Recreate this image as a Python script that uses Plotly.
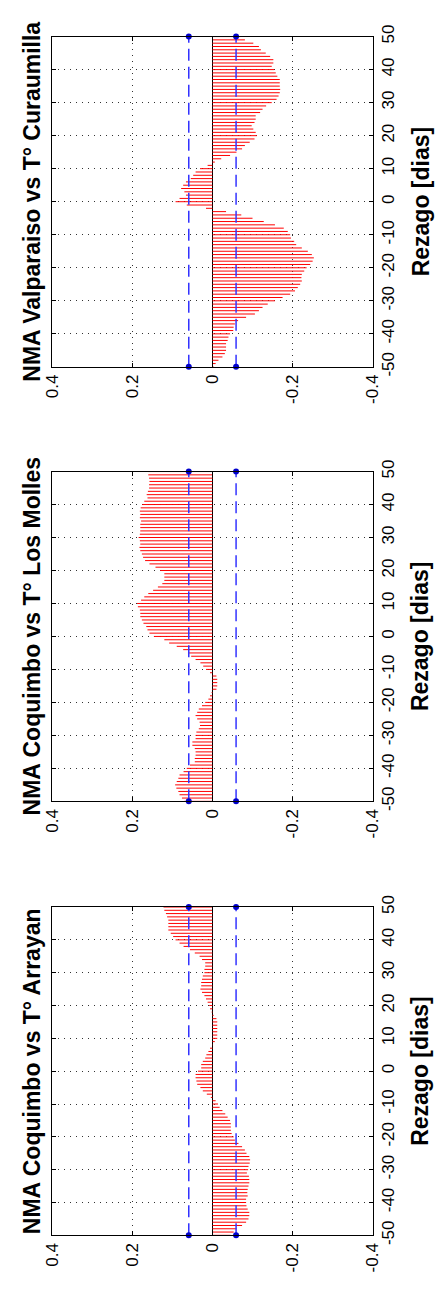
import plotly.graph_objects as go

# ---------------- data ----------------
lags = list(range(-50, 51))

corr_curaumilla = [
    -0.003, -0.008, -0.015, -0.025, -0.031, -0.034, -0.034, -0.034, -0.038, -0.040,
    -0.044, -0.052, -0.053, -0.056, -0.064, -0.084, -0.106, -0.116, -0.125, -0.138,
    -0.156, -0.175, -0.194, -0.206, -0.213, -0.219, -0.223, -0.222, -0.223, -0.229,
    -0.235, -0.244, -0.250, -0.253, -0.248, -0.238, -0.223, -0.209, -0.204, -0.196,
    -0.194, -0.188, -0.178, -0.156, -0.128, -0.100, -0.072, -0.034, 0.016, 0.064,
    0.092,
    0.082, 0.066, 0.070, 0.078, 0.073, 0.066, 0.054, 0.048, 0.042, 0.031,
    0.012, -0.006, -0.022, -0.044, -0.060, -0.074, -0.081, -0.093, -0.105, -0.111,
    -0.108, -0.102, -0.098, -0.105, -0.108, -0.108, -0.119, -0.125, -0.134, -0.148,
    -0.160, -0.165, -0.168, -0.169, -0.168, -0.168, -0.168, -0.162, -0.158, -0.154,
    -0.148, -0.152, -0.152, -0.144, -0.133, -0.121, -0.116, -0.102, -0.081, -0.070,
]

corr_los_molles = [
    0.070, 0.076, 0.082, 0.085, 0.090, 0.093, 0.089, 0.085, 0.082, 0.072,
    0.064, 0.056, 0.044, 0.044, 0.042, 0.042, 0.044, 0.050, 0.050, 0.042,
    0.042, 0.040, 0.034, 0.031, 0.032, 0.038, 0.042, 0.038, 0.034, 0.026,
    0.018, 0.010, 0.006, 0.002, -0.010, -0.012, -0.012, -0.012, -0.010, 0.006,
    0.016, 0.023, 0.030, 0.042, 0.053, 0.061, 0.073, 0.089, 0.108, 0.120,
    0.146,
    0.157, 0.162, 0.165, 0.172, 0.176, 0.180, 0.180, 0.181, 0.186, 0.188,
    0.178, 0.170, 0.160, 0.148, 0.136, 0.125, 0.120, 0.120, 0.120, 0.130,
    0.142, 0.157, 0.168, 0.173, 0.176, 0.180, 0.182, 0.180, 0.181, 0.184,
    0.181, 0.180, 0.180, 0.180, 0.178, 0.181, 0.180, 0.181, 0.179, 0.175,
    0.170, 0.162, 0.164, 0.161, 0.158, 0.158, 0.157, 0.158, 0.160, 0.160,
]

corr_arrayan = [
    -0.045, -0.053, -0.060, -0.074, -0.084, -0.090, -0.092, -0.092, -0.088, -0.085,
    -0.084, -0.084, -0.088, -0.087, -0.088, -0.090, -0.092, -0.092, -0.091, -0.086,
    -0.089, -0.090, -0.093, -0.094, -0.092, -0.085, -0.081, -0.074, -0.065, -0.056,
    -0.053, -0.048, -0.046, -0.046, -0.046, -0.044, -0.038, -0.032, -0.025, -0.018,
    -0.014, -0.008, 0.004, 0.014, 0.024, 0.030, 0.038, 0.040, 0.042, 0.042,
    0.036,
    0.028, 0.028, 0.024, 0.018, 0.015, 0.010, 0.006, -0.001, -0.006, -0.012,
    -0.012, -0.012, -0.012, -0.012, -0.012, -0.010, -0.003, 0.002, 0.006, 0.008,
    0.012, 0.016, 0.020, 0.026, 0.030, 0.028, 0.028, 0.026, 0.024, 0.020,
    0.020, 0.018, 0.018, 0.026, 0.032, 0.044, 0.056, 0.072, 0.082, 0.092,
    0.098, 0.104, 0.110, 0.110, 0.110, 0.110, 0.113, 0.116, 0.120, 0.122,
]

conf_bound = 0.059

titles = [
    "NMA Valparaiso vs T° Curaumilla",
    "NMA Coquimbo vs T° Los Molles",
    "NMA Coquimbo vs T° Arrayan",
]
lag_label = "Rezago [dias]"

corr_tickvals = [0.4, 0.2, 0, -0.2, -0.4]
corr_ticktext = ["0.4", "0.2", "0", "-0.2", "-0.4"]
lag_tickvals = list(range(-50, 51, 10))
lag_ticktext = [str(v) for v in lag_tickvals]

# ---------------- layout ----------------
W, H = 445, 1294
x_dom = [45 / W, 380 / W]
panels_px = [(25, 361), (467.5, 803), (910.5, 1244.5)]
series = [corr_curaumilla, corr_los_molles, corr_arrayan]

TICK_FONT = dict(family="Liberation Sans, Arial, sans-serif", size=17, color="black")
BOLD_FONT = dict(family="Liberation Sans, Arial, sans-serif", size=23, color="black")

fig = go.Figure()
layout = dict(
    width=W, height=H, autosize=False,
    margin=dict(l=0, r=0, t=0, b=0),
    paper_bgcolor="white", plot_bgcolor="white",
    showlegend=False,
)
annotations = []

for i, (vals, (top, bot), title) in enumerate(zip(series, panels_px, titles)):
    sfx = "" if i == 0 else str(i + 1)
    xs, ys = [], []
    for lag, v in zip(lags, vals):
        xs += [0, v, None]
        ys += [lag, lag, None]
    fig.add_trace(go.Scatter(
        x=xs, y=ys, mode="lines",
        line=dict(color="#ff0000", width=1),
        xaxis="x" + sfx, yaxis="y" + sfx, hoverinfo="skip",
    ))
    for c in (conf_bound, -conf_bound):
        fig.add_trace(go.Scatter(
            x=[c, c], y=[lags[0], lags[-1]], mode="lines+markers",
            line=dict(color="#3333ff", width=1.5, dash="12px,6px"),
            marker=dict(color="#0000cc", size=6),
            xaxis="x" + sfx, yaxis="y" + sfx, hoverinfo="skip", cliponaxis=False,
        ))

    ydom = [1 - bot / H, 1 - top / H]
    layout["xaxis" + sfx] = dict(
        domain=x_dom, range=[0.4, -0.4], anchor="y" + sfx,
        tickmode="array", tickvals=corr_tickvals, ticktext=corr_ticktext,
        tickangle=-90, tickfont=TICK_FONT,
        ticks="inside", ticklen=4, tickcolor="black",
        showline=True, linecolor="black", linewidth=1, mirror="ticks",
        showgrid=True, gridcolor="#333333", gridwidth=1, griddash="1px,5px",
        zeroline=True, zerolinecolor="black", zerolinewidth=1,
        fixedrange=True,
    )
    layout["yaxis" + sfx] = dict(
        domain=ydom, range=[-50, 50], anchor="x" + sfx, side="right",
        tickmode="array", tickvals=lag_tickvals, ticktext=lag_ticktext,
        tickangle=-90, tickfont=TICK_FONT,
        ticks="inside", ticklen=4, tickcolor="black",
        showline=True, linecolor="black", linewidth=1, mirror="ticks",
        showgrid=True, gridcolor="#333333", gridwidth=1, griddash="1px,5px",
        zeroline=False, fixedrange=True,
    )
    yc = 1 - (top + bot) / 2 / H
    annotations.append(dict(
        text="<b>" + title + "</b>", x=24 / W, y=yc, xref="paper", yref="paper",
        textangle=-90, showarrow=False, xanchor="center", yanchor="middle",
        font=BOLD_FONT,
    ))
    annotations.append(dict(
        text="<b>" + lag_label + "</b>", x=430 / W, y=yc, xref="paper", yref="paper",
        textangle=-90, showarrow=False, xanchor="center", yanchor="middle",
        font=BOLD_FONT,
    ))

layout["annotations"] = annotations
fig.update_layout(**layout)
fig.write_html("out.html")
